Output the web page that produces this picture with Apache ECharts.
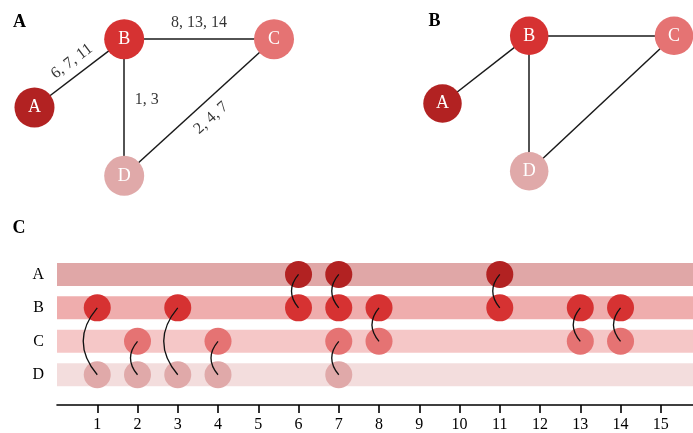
<!DOCTYPE html>
<html>
<head>
<meta charset="utf-8">
<title>Temporal network</title>
<script src="https://cdn.jsdelivr.net/npm/echarts@6/dist/echarts.min.js"></script>
<style>
  html, body { margin: 0; padding: 0; background: #fff; }
  #chart { width: 693px; height: 433px; }
</style>
</head>
<body>
<div id="chart"></div>
<script>
// Nodes of the network and their layout in a unit square
const nodeNames = ['A', 'B', 'C', 'D'];
const nodeLayoutX = [0, 0.3745, 1, 0.3745];
const nodeLayoutY = [0.5, 1, 1, 0];

// Contact events: time step and the two nodes in contact
const eventTimes = [1, 2, 3, 4, 6, 7, 7, 8, 11, 13, 14];
const eventFrom  = ['B', 'C', 'B', 'C', 'A', 'A', 'C', 'B', 'A', 'B', 'B'];
const eventTo    = ['D', 'D', 'D', 'D', 'B', 'B', 'D', 'C', 'B', 'C', 'C'];

// Time axis
const timeTicks = [1, 2, 3, 4, 5, 6, 7, 8, 9, 10, 11, 12, 13, 14, 15];
const timeMax = 15.8;

// ---- styling ----
const FONT = "'Liberation Serif', 'Times New Roman', serif";
const nodeColors = ['#b22222', '#d63232', '#e57373', '#e0a9a9'];
const edgeColor = '#1a1a1a';
const ink = '#000';

// label placement for each edge of the annotated network (pixels from the edge midpoint)
const edgeLabelPlacement = {
  'A-B': { rotate: 37, dx: -7.5, dy: -12 },
  'B-C': { rotate: 0, dx: 0, dy: -16.5 },
  'B-D': { rotate: 0, dx: 22.5, dy: -8 },
  'C-D': { rotate: 42, dx: 12, dy: 10.5 }
};

const panelA = { left: 34.5, top: 39.2, width: 239.5, height: 136.6, symbol: 40 };
const panelB = { left: 442.5, top: 35.8, width: 231.5, height: 135.4, symbol: 38.5 };
const panelC = { left: 57, right: 0, top: 257.65, height: 134.8 };

// ---- aggregate the events into edges ----
const idx = n => nodeNames.indexOf(n);
const edges = [];
const edgeMap = {};
eventTimes.forEach((t, i) => {
  const pair = [eventFrom[i], eventTo[i]].sort();
  const key = pair.join('-');
  if (!edgeMap[key]) {
    edgeMap[key] = { key: key, a: pair[0], b: pair[1], times: [] };
    edges.push(edgeMap[key]);
  }
  edgeMap[key].times.push(t);
});

function networkSeries(gi, panel, withLabels) {
  const out = [];
  out.push({
    type: 'lines',
    coordinateSystem: 'cartesian2d',
    xAxisIndex: gi, yAxisIndex: gi,
    clip: false, silent: true, z: 1,
    lineStyle: { color: edgeColor, width: 1.5, opacity: 1 },
    data: edges.map(e => ({
      coords: [
        [nodeLayoutX[idx(e.a)], nodeLayoutY[idx(e.a)]],
        [nodeLayoutX[idx(e.b)], nodeLayoutY[idx(e.b)]]
      ]
    }))
  });
  out.push({
    type: 'scatter',
    xAxisIndex: gi, yAxisIndex: gi,
    clip: false, silent: true, z: 3,
    symbolSize: panel.symbol,
    itemStyle: { opacity: 1 },
    label: {
      show: true, position: 'inside', formatter: '{b}',
      color: '#fff', fontSize: 18, fontFamily: FONT
    },
    data: nodeNames.map((n, i) => ({
      name: n,
      value: [nodeLayoutX[i], nodeLayoutY[i]],
      itemStyle: { color: nodeColors[i], opacity: 1 }
    }))
  });
  if (withLabels) {
    out.push({
      type: 'scatter',
      xAxisIndex: gi, yAxisIndex: gi,
      clip: false, silent: true, z: 4,
      symbolSize: 1,
      itemStyle: { color: 'rgba(0,0,0,0)' },
      label: {
        show: true, position: 'inside', formatter: '{b}',
        color: ink, fontSize: 16, fontFamily: FONT
      },
      data: edges.map(e => {
        const p = edgeLabelPlacement[e.key];
        const mx = (nodeLayoutX[idx(e.a)] + nodeLayoutX[idx(e.b)]) / 2;
        const my = (nodeLayoutY[idx(e.a)] + nodeLayoutY[idx(e.b)]) / 2;
        return {
          name: e.times.join(', '),
          value: [mx + p.dx / panel.width, my - p.dy / panel.height],
          label: { rotate: p.rotate }
        };
      })
    });
  }
  return out;
}

const hiddenAxis = gi => ({ gridIndex: gi, type: 'value', min: 0, max: 1, show: false });

const chart = echarts.init(document.getElementById('chart'), null, { renderer: 'canvas' });

const timelinePoints = [];
eventTimes.forEach((t, i) => {
  [eventFrom[i], eventTo[i]].forEach(n => {
    timelinePoints.push({ value: [t, idx(n)], itemStyle: { color: nodeColors[idx(n)], opacity: 1 } });
  });
});

const option = {
  animation: false,
  backgroundColor: '#fff',
  title: [
    { text: 'A', left: 13, top: 13.4, padding: 0, textStyle: { fontFamily: FONT, fontSize: 18, fontWeight: 'bold', color: ink } },
    { text: 'B', left: 428.5, top: 12.4, padding: 0, textStyle: { fontFamily: FONT, fontSize: 18, fontWeight: 'bold', color: ink } },
    { text: 'C', left: 12.5, top: 219.7, padding: 0, textStyle: { fontFamily: FONT, fontSize: 18, fontWeight: 'bold', color: ink } }
  ],
  grid: [
    { left: panelA.left, top: panelA.top, width: panelA.width, height: panelA.height },
    { left: panelB.left, top: panelB.top, width: panelB.width, height: panelB.height },
    { left: panelC.left, right: panelC.right, top: panelC.top, height: panelC.height }
  ],
  xAxis: [
    hiddenAxis(0),
    hiddenAxis(1),
    {
      gridIndex: 2, type: 'value', min: 0, max: timeMax, offset: 13.5,
      axisLine: { show: true, onZero: false, lineStyle: { color: ink, width: 1.6 } },
      axisTick: { show: true, customValues: timeTicks, length: 8, lineStyle: { color: ink, width: 1.6 } },
      axisLabel: { show: true, customValues: timeTicks, margin: 12, fontSize: 16, color: ink, fontFamily: FONT },
      splitLine: { show: false }
    }
  ],
  yAxis: [
    hiddenAxis(0),
    hiddenAxis(1),
    {
      gridIndex: 2, type: 'category', data: nodeNames, inverse: true,
      axisLine: { show: false }, axisTick: { show: false },
      axisLabel: { margin: 13, fontSize: 16, color: ink, fontFamily: FONT },
      splitLine: { show: false }
    }
  ],
  series: [
    ...networkSeries(0, panelA, true),
    ...networkSeries(1, panelB, false),
    {
      // one band per node across the whole time range
      type: 'bar',
      xAxisIndex: 2, yAxisIndex: 2,
      barWidth: 23, silent: true, z: 1,
      data: nodeNames.map((n, i) => ({ value: timeMax, itemStyle: { color: nodeColors[i], opacity: 0.4 } }))
    },
    {
      // node activity at each contact
      type: 'scatter',
      xAxisIndex: 2, yAxisIndex: 2,
      symbolSize: 27, silent: true, z: 2, clip: false,
      itemStyle: { opacity: 1 },
      data: timelinePoints
    },
    {
      // curved connector between the two nodes of a contact
      type: 'custom',
      xAxisIndex: 2, yAxisIndex: 2,
      silent: true, z: 3,
      encode: { x: 0, y: [1, 2] },
      data: eventTimes.map((t, i) => [t, idx(eventFrom[i]), idx(eventTo[i])]),
      renderItem: function (params, api) {
        const t = api.value(0);
        const p1 = api.coord([t, api.value(1)]);
        const p2 = api.coord([t, api.value(2)]);
        const top = p1[1] < p2[1] ? p1 : p2;
        const bot = p1[1] < p2[1] ? p2 : p1;
        const dy = bot[1] - top[1];
        const k = 0.28 * dy;
        return {
          type: 'bezierCurve',
          shape: {
            x1: top[0], y1: top[1], x2: bot[0], y2: bot[1],
            cpx1: top[0] - k, cpy1: top[1] + dy / 3,
            cpx2: top[0] - k, cpy2: top[1] + 2 * dy / 3
          },
          style: { stroke: '#111', fill: null, lineWidth: 1.3 }
        };
      }
    }
  ]
};

chart.setOption(option);
</script>
</body>
</html>
